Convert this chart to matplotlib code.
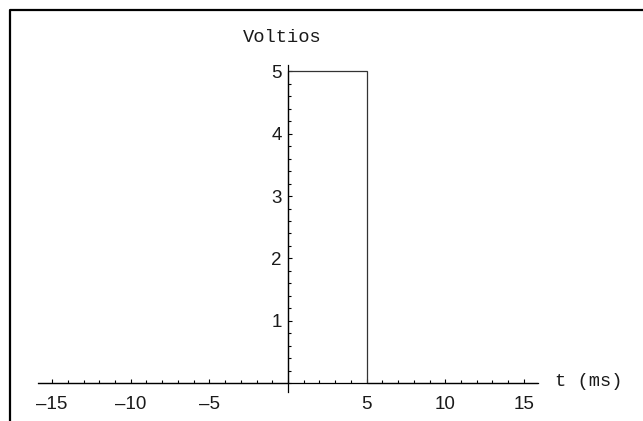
import numpy as np
import matplotlib
matplotlib.use("Agg")
import matplotlib.pyplot as plt
from matplotlib.ticker import FixedLocator, MultipleLocator
from matplotlib.lines import Line2D

# rectangular pulse: 5 V between t = 0 and t = 5 ms
t_ms = [-15.9, 0, 0, 5, 5, 15.9]
volts = [0, 0, 5, 5, 0, 0]
x_major = [-15, -10, -5, 5, 10, 15]
y_major = [1, 2, 3, 4, 5]

W, H = 643, 421
fig = plt.figure(figsize=(W / 100, H / 100), dpi=100)

# axes box in pixels: x -15.9..15.9 -> 38..538, y -0.14..5.1 -> 392..65
x0, x1 = 38, 538
y0, y1 = 392, 65
ax = fig.add_axes([x0 / W, (H - y0) / H, (x1 - x0) / W, (y0 - y1) / H])
ax.set_xlim(-15.9, 15.9)
ax.set_ylim(-0.14, 5.1)

ax.plot(t_ms, volts, color="#333333", lw=0.9, solid_joinstyle="miter")

for s in ["top", "right"]:
    ax.spines[s].set_visible(False)
ax.spines["left"].set_position(("data", 0))
ax.spines["bottom"].set_position(("data", 0))
for s in ["left", "bottom"]:
    ax.spines[s].set_linewidth(0.9)
ax.patch.set_alpha(0)

ax.xaxis.set_major_locator(FixedLocator(x_major))
ax.xaxis.set_minor_locator(MultipleLocator(1))
ax.yaxis.set_major_locator(FixedLocator(y_major))
ax.yaxis.set_minor_locator(MultipleLocator(0.2))

ax.tick_params(which="both", direction="in", width=0.8, colors="black")
ax.tick_params(which="major", length=3.2)
ax.tick_params(which="minor", length=2)
ax.tick_params(axis="x", which="major", pad=9.5, labelsize=13.5)
ax.tick_params(axis="y", which="major", pad=4.5, labelsize=13.5)
ax.set_xticklabels(["\u201315", "\u201310", "\u20135", "5", "10", "15"])
for lab in ax.get_xticklabels() + ax.get_yticklabels():
    lab.set_family("Liberation Sans")
    lab.set_color("#1a1a1a")

# axis captions in a typewriter face
fig.text(282 / W, 1 - 38 / H, "Voltios", family="Liberation Mono",
         fontsize=13.5, ha="center", va="center", color="#1a1a1a")
fig.text(555 / W, 1 - 382 / H, "t (ms)", family="Liberation Mono",
         fontsize=13.5, ha="left", va="center", color="#1a1a1a")

# outer frame (left and top edges)
fig.add_artist(Line2D([10 / W, 10 / W, 1.0], [0.0, 1 - 10 / H, 1 - 10 / H],
                      transform=fig.transFigure, color="black", lw=1.6))

fig.savefig("out.png", dpi=100)
